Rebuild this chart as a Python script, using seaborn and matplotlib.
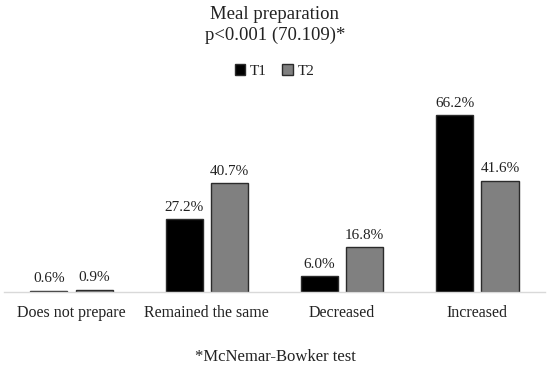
import pandas as pd
import matplotlib
matplotlib.use("Agg")
import matplotlib.pyplot as plt
import seaborn as sns

categories = ["Does not prepare", "Remained the same", "Decreased", "Increased"]
t1_values = [0.6, 27.2, 6.0, 66.2]
t2_values = [0.9, 40.7, 16.8, 41.6]
series_names = ["T1", "T2"]

df = pd.DataFrame({
    "category": categories * 2,
    "time": [series_names[0]] * 4 + [series_names[1]] * 4,
    "value": t1_values + t2_values,
})

sns.set_theme(style="white")
plt.rcParams["font.family"] = ["Liberation Serif", "DejaVu Serif"]

fig = plt.figure(figsize=(5.5, 3.75), dpi=100)
ax = fig.add_axes([0.007, 0.221, 0.984, 0.499])

sns.barplot(
    data=df, x="category", y="value", hue="time",
    palette={"T1": "#000000", "T2": "#808080"},
    width=0.67, gap=0.18, edgecolor="#2b2b2b", linewidth=1.0,
    ax=ax, legend=True,
)

# value labels above bars
for container in ax.containers:
    ax.bar_label(container, labels=[f"{v:.1f}%" for v in container.datavalues],
                 padding=4, fontsize=11, color="#222222")

ax.set_ylim(0, 70)
ax.set_xlim(-0.5, 3.5)
ax.set_xlabel("")
ax.set_ylabel("")
ax.set_yticks([])
ax.tick_params(axis="x", length=0, labelsize=11.5, pad=9, colors="#222222")
for side in ["top", "right", "left"]:
    ax.spines[side].set_visible(False)
ax.spines["bottom"].set_color("#d9d9d9")
ax.spines["bottom"].set_linewidth(1.0)

ax.legend(loc="center", bbox_to_anchor=(0.5, 1.18), ncol=2, frameon=False,
          fontsize=11, handlelength=0.7, handleheight=0.7, handletextpad=0.3,
          columnspacing=1.0, labelcolor="#222222")

fig.text(0.5, 0.962, "Meal preparation", ha="center", va="center", fontsize=13.5, color="#222222")
fig.text(0.5, 0.905, "p<0.001 (70.109)*", ha="center", va="center", fontsize=13.5, color="#222222")
fig.text(0.5, 0.048, "*McNemar-Bowker test", ha="center", va="center", fontsize=12, color="#222222")

fig.savefig("out.png", dpi=100)
